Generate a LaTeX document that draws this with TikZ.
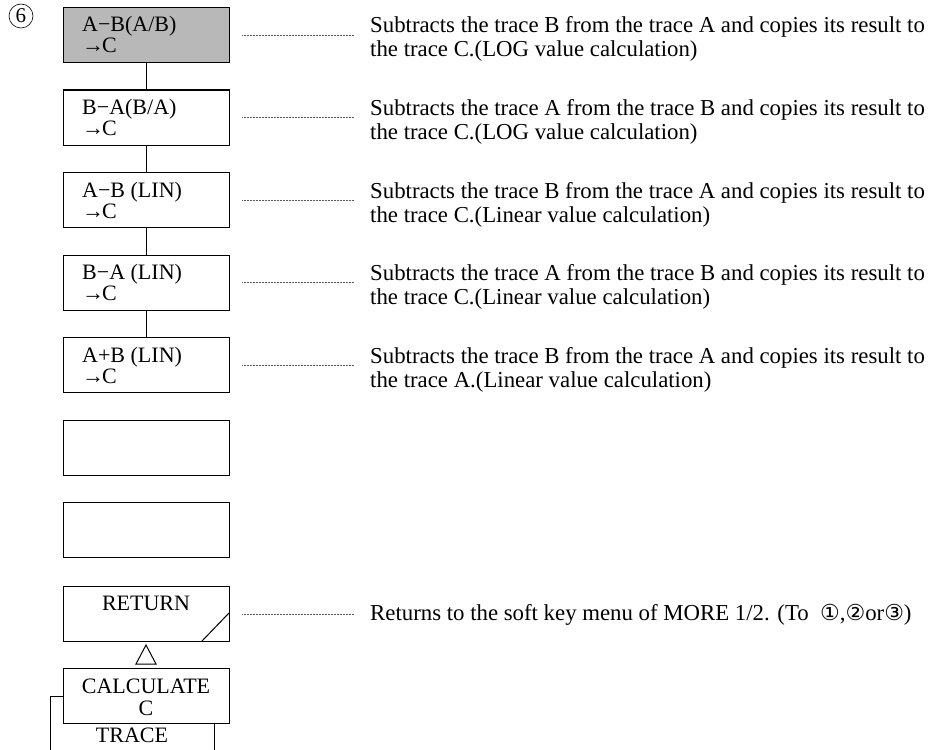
\documentclass[tikz,border=0pt]{standalone}
\usepackage{fontspec}
\setmainfont{Liberation Serif}
\newfontfamily\symfont{DejaVu Sans}
\newcommand\cdig[1]{{\symfont\fontsize{22}{22}\selectfont #1}}
\newcommand\toc{→\kern-2pt C}
\begin{document}
\begin{tikzpicture}[x=1pt,y=-1pt,
  keybox/.style={draw, line width=1.1pt, minimum width=166pt, minimum height=55pt, inner sep=0pt, anchor=north west},
  boxtxt/.style={anchor=base west, inner sep=0pt, align=left, font=\fontsize{22}{21}\selectfont},
  ctxt/.style={anchor=base, inner sep=0pt, font=\fontsize{22}{21}\selectfont},
  desc/.style={anchor=base west, inner sep=0pt, align=left, font=\fontsize{22.8}{24}\selectfont},
  leader/.style={draw=black!65, line width=0.7pt, dash pattern=on 1pt off 0.5pt},
  link/.style={line width=1pt}]
\useasboundingbox (0,0) rectangle (928,749);
\fill[white] (0,0) rectangle (928,749);

\node[circle, draw, line width=0.6pt, minimum size=24pt, inner sep=0pt, font=\fontsize{21}{21}\selectfont] (six) at (21,16) {6};

% key boxes
\node[keybox, fill=black!28] (b1) at (63,7) {};
\node[keybox] (b2) at (63,89.5) {};
\node[keybox] (b3) at (63,172) {};
\node[keybox] (b4) at (63,254.5) {};
\node[keybox] (b5) at (63,337) {};
\node[keybox] (b6) at (63,419.5) {};
\node[keybox] (b7) at (63,502) {};
\node[keybox] (ret) at (63,586) {};
\node[keybox] (cal) at (63,668) {};

% box texts (base = baseline of last line)
\node[boxtxt] (t1) at (82,53) {A−B(A/B)\\\toc};
\node[boxtxt] (t2) at (82,135.5) {B−A(B/A)\\\toc};
\node[boxtxt] (t3) at (82,218) {A−B (LIN)\\\toc};
\node[boxtxt] (t4) at (82,300.5) {B−A (LIN)\\\toc};
\node[boxtxt] (t5) at (82,383) {A+B (LIN)\\\toc};
\node[ctxt] (tret) at (146,610) {RETURN};
\node[ctxt] (tcal) at (146,693) {CALCULATE};
\node[ctxt] (tcalc) at (146,715) {C};
\node[ctxt] (ttr) at (132,742) {TRACE};

% links
\draw[link] (b1.south) -- (b2.north);
\draw[link] (b2.south) -- (b3.north);
\draw[link] (b3.south) -- (b4.north);
\draw[link] (b4.south) -- (b5.north);
\draw[line width=1pt] (202,641) -- (229,613);
\draw[line width=1pt] (146,645) -- (156,664) -- (136,664) -- cycle;

% TRACE bracket
\coordinate (brl) at (50,760);
\coordinate (brr) at (214,760);
\draw[link] (cal.west |- 0,696) -| (brl);
\draw[link] (cal.south -| brr) -- (brr);

% leaders
\foreach \b in {b1,b2,b3,b4,b5,ret}
  \draw[leader] ([xshift=12pt]\b.east) -- ([xshift=124pt]\b.east);

% descriptions (base = baseline of last line)
\node[desc] (d1) at (370,57) {Subtracts the trace B from the trace A and copies its result to\\the trace C.(LOG value calculation)};
\node[desc] (d2) at (370,139.5) {Subtracts the trace A from the trace B and copies its result to\\the trace C.(LOG value calculation)};
\node[desc] (d3) at (370,222) {Subtracts the trace B from the trace A and copies its result to\\the trace C.(Linear value calculation)};
\node[desc] (d4) at (370,304.5) {Subtracts the trace A from the trace B and copies its result to\\the trace C.(Linear value calculation)};
\node[desc] (d5) at (370,387) {Subtracts the trace B from the trace A and copies its result to\\the trace A.(Linear value calculation)};
\node[desc] (dr) at (370,620) {Returns to the soft key menu of MORE 1/2. (To\ \ \cdig{①},\cdig{②}or\cdig{③})};
\end{tikzpicture}
\end{document}
